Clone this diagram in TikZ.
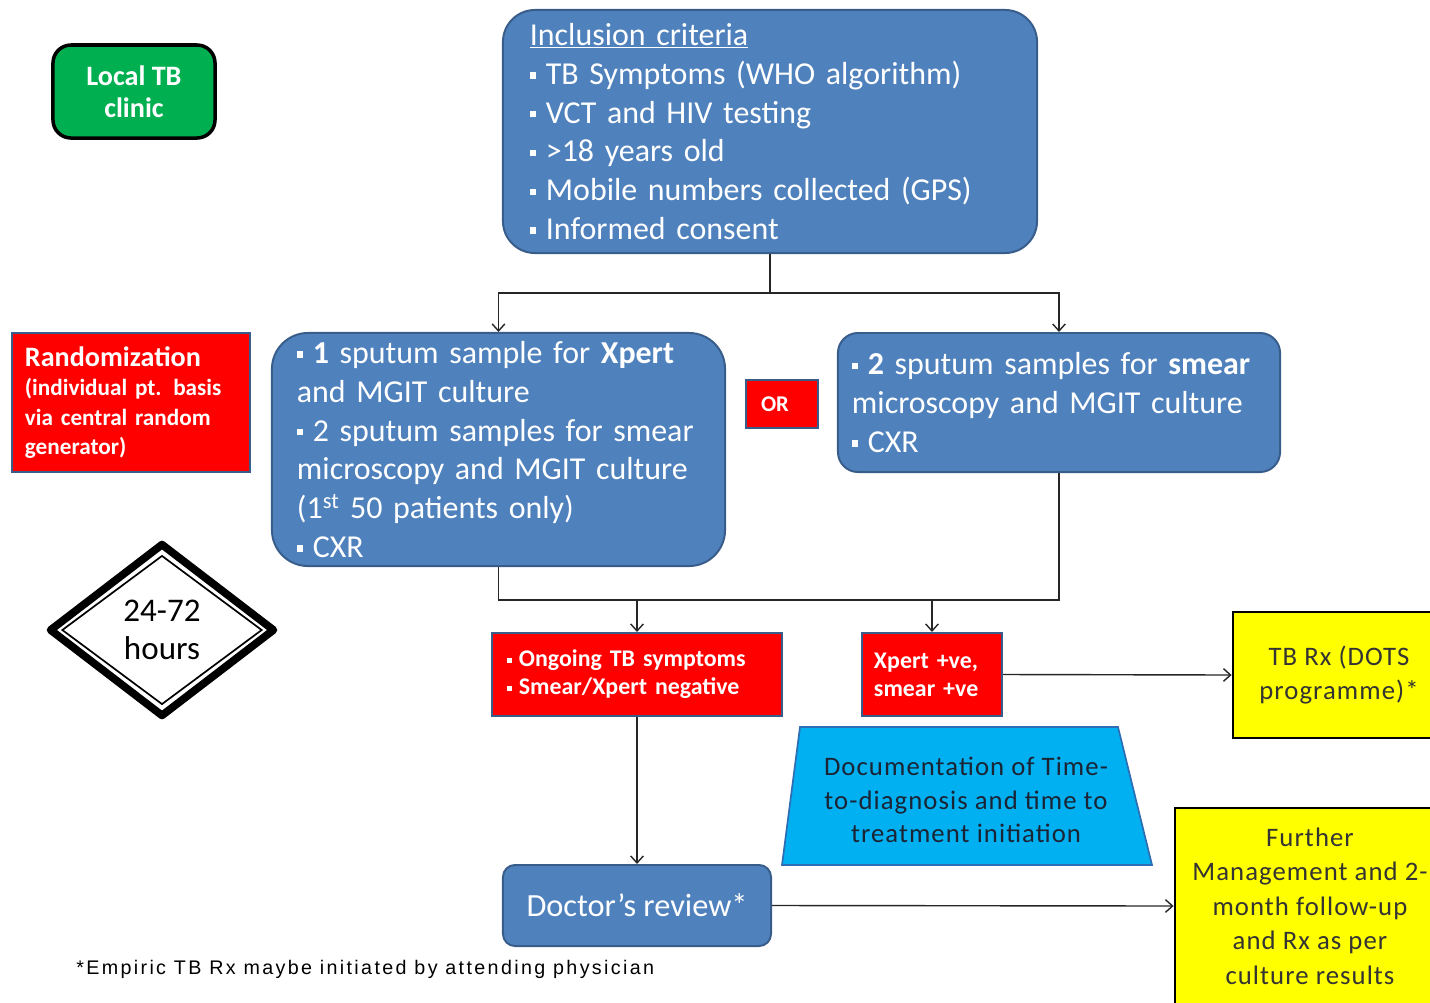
\documentclass[tikz,border=0pt]{standalone}
\usepackage{fontspec}
\setmainfont{Carlito}
\newfontfamily\footfont[LetterSpace=12]{Liberation Sans}
\newfontfamily\spacedfont[LetterSpace=4]{Carlito}
\usetikzlibrary{arrows.meta,shapes.geometric}
\definecolor{boxblue}{HTML}{4F81BD}
\definecolor{edgeblue}{HTML}{385D8A}
\definecolor{alertred}{HTML}{FF0000}
\definecolor{clinicgreen}{HTML}{00B050}
\definecolor{noteyellow}{HTML}{FFFF00}
\definecolor{trapblue}{HTML}{00B0F0}
\definecolor{trapedge}{HTML}{2E6DB4}
\definecolor{inkdark}{HTML}{1B2435}
% small square bullet
\newcommand\sq{\raisebox{0.18em}{\rule{0.2em}{0.2em}}\hspace{0.3em}}
\tikzset{
  bluebox/.style={draw=edgeblue, line width=1.4pt, fill=boxblue, text=white, inner sep=0pt},
  redbox/.style={draw=edgeblue, line width=1.4pt, fill=alertred, text=white, inner sep=0pt},
  yellowbox/.style={draw=black, line width=2pt, fill=noteyellow, text=black!80, inner sep=0pt,
    align=center, font=\spacedfont\fontsize{19}{24.5}\selectfont},
  bigtext/.style={font=\fontsize{22.7}{27.6}\selectfont},
  redtext/.style={font=\bfseries\fontsize{17}{20}\selectfont},
  link/.style={draw=black!85, line width=1pt},
  arr/.style={link, -{Straight Barb[length=5pt,width=9pt]}},
}
\begin{document}
\begin{tikzpicture}[x=0.025cm, y=-0.025cm]
\useasboundingbox (0,0) rectangle (1430,1002);

% clinic label
\node[draw=black, line width=2.5pt, fill=clinicgreen, rounded corners=0.45cm,
  minimum width=4.05cm, minimum height=2.325cm, text=white, align=center,
  font=\bfseries\fontsize{20}{23}\selectfont] (clinic) at (134,91.5) {Local TB\\clinic};

% inclusion criteria
\node[bluebox, rounded corners=0.8cm, minimum width=13.35cm, minimum height=6.075cm,
  text width=12cm, align=left, bigtext] (incl) at (770,131.5)
  {\underline{Inclusion criteria}\\
   \sq TB Symptoms (WHO algorithm)\\
   \sq VCT and HIV testing\\
   \sq >18 years old\\
   \sq Mobile numbers collected (GPS)\\
   \sq Informed consent};

% randomisation
\node[redbox, minimum width=5.95cm, minimum height=3.475cm, text width=5.3cm, align=left,
  font=\bfseries\fontsize{16.5}{21}\selectfont] (rand) at (131,402.5)
  {{\fontsize{20}{21}\selectfont Randomization}\\
   (individual pt. basis\\
   via central random\\
   generator)};

% study arms
\node[bluebox, rounded corners=0.9cm, minimum width=11.325cm, minimum height=5.825cm,
  text width=10.075cm, align=left, bigtext] (armA) at (498.5,449.5)
  {\sq\textbf{1} sputum sample for \textbf{Xpert}\\
   and MGIT culture\\
   \sq 2 sputum samples for smear\\
   microscopy and MGIT culture\\
   (1\textsuperscript{st} 50 patients only)\\
   \sq CXR};

\node[redbox, minimum width=1.8cm, minimum height=1.2cm, text width=1.05cm, align=left,
  font=\bfseries\fontsize{16}{18}\selectfont] (or) at (782,404) {OR};

\node[bluebox, rounded corners=0.5cm, minimum width=11.05cm, minimum height=3.475cm,
  text width=10.35cm, align=left, bigtext] (armB) at (1059,402.5)
  {\sq\textbf{2} sputum samples for \textbf{smear}\\
   microscopy and MGIT culture\\
   \sq CXR};

% time window
\node[diamond, draw=black, line width=5.5pt, line join=round, inner sep=0pt,
  minimum width=5.65cm, minimum height=4.35cm] (hrsout) at (162,630) {};
\node[diamond, draw=black, line width=1.2pt, inner sep=0pt,
  minimum width=5cm, minimum height=3.72cm] (hrsin) at (162,630) {};
\node[align=center, font=\fontsize{23.5}{27}\selectfont] (hrs) at (162,630) {24-72\\hours};

% results
\node[redbox, minimum width=7.25cm, minimum height=2.075cm, text width=6.5cm,
  align=left, redtext] (neg) at (637,674.5)
  {\sq Ongoing TB symptoms\\ \sq Smear/Xpert negative};
\node[redbox, minimum width=3.5cm, minimum height=2.075cm, text width=2.9cm,
  align=left, redtext] (pos) at (932,674.5)
  {Xpert +ve,\\ smear +ve};

\node[yellowbox, minimum width=5.3cm, minimum height=3.15cm] (dots) at (1339,675)
  {TB Rx (DOTS\\ programme)*};

% documentation trapezium
\path[draw=trapedge, line width=1.2pt, fill=trapblue]
  (800,727) -- (1118,727) -- (1152,865) -- (782,865) -- cycle;
\node[align=center, text=inkdark, font=\spacedfont\fontsize{19}{24}\selectfont] (timing) at (966,800)
  {Documentation of Time-\\ to-diagnosis and time to\\ treatment initiation};

% review and follow-up
\node[bluebox, rounded corners=0.3cm, minimum width=6.7cm, minimum height=2.025cm,
  font=\fontsize{23}{27.6}\selectfont] (review) at (637,905.5) {Doctor’s review*};

\node[yellowbox, minimum width=6.75cm, minimum height=4.9cm] (further) at (1310,906)
  {Further\\ Management and 2-\\ month follow-up\\ and Rx as per\\ culture results};

\node[anchor=west, inner sep=0pt, font=\footfont\fontsize{14}{16}\selectfont] (note) at (76,969)
  {*Empiric TB Rx maybe initiated by attending physician};

% connectors
\coordinate (split) at (770,293);
\draw[link] (incl.south) -- (split);
\draw[arr] (split) -| (armA.north);
\draw[arr] (split) -| (armB.north);

\coordinate (merge) at (1059,600);
\draw[link] (armA.south) |- (merge) -- (armB.south);
\draw[arr] (neg.north |- merge) -- (neg.north);
\draw[arr] (pos.north |- merge) -- (pos.north);

\draw[arr] (pos.east) -- (dots.west);
\draw[arr] (neg.south) -- (review.north);
\draw[arr] (review.east) -- (further.west);
\end{tikzpicture}
\end{document}
